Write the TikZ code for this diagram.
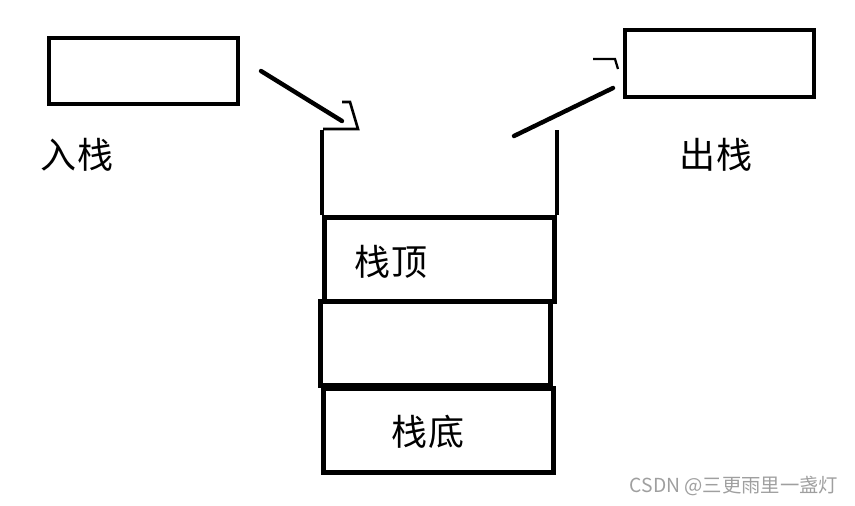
\documentclass[tikz,border=0pt]{standalone}
\usepackage{fontspec}
\newfontfamily\cjk{Noto Sans CJK SC}
\usepackage{tikz}
\usetikzlibrary{positioning, calc}
\tikzset{
  card/.style={draw, line width=2.5pt, inner sep=0pt, anchor=north west},
  slot/.style={draw, line width=3pt, inner sep=0pt, anchor=north west, minimum width=4.6cm, minimum height=1.68cm},
  label/.style={font=\cjk\fontsize{20.5}{20.5}\selectfont},
  push/.style={line width=2.5pt, line cap=round, line join=round}
}

\begin{document}
\begin{tikzpicture}[x=0.02cm, y=-0.02cm]
        \useasboundingbox (0,0) rectangle (855,505);

        % Cards left and right
        \node[card, minimum width=3.78cm, minimum height=1.32cm] (inbox)  at (47,36) {};
        \node[card, minimum width=3.78cm, minimum height=1.34cm] (outbox) at (623,28) {};
        \node[label] (inlabel)  at (77,155)  {入栈};
        \node[label] (outlabel) at (716,155) {出栈};

        % Stack
        \node[slot] (top)    at (322,215) {};
        \node[slot] (middle) at (318,299) {};
        \node[slot] (bottom) at (321,386) {};
        \node[label] at ($(top.west)+(69,2)$)     {栈顶};
        \node[label] at ($(bottom.west)+(107,1)$) {栈底};
        \draw[line width=2.4pt] (top.north west) -- ++(0,-85);
        \draw[line width=2.4pt] (top.north east) -- ++(0,-85);

        % Arrows
        \coordinate (pushfrom) at (261,71);
        \coordinate (pushto)   at (342,121);
        \coordinate (popfrom)  at (514,136);
        \coordinate (popto)    at (613,88);
        \draw[push] (pushfrom) -- (pushto);
        \draw[line width=1.5pt] ($(pushto)+(-19,8)$) -- ++(35,0) -- ++(-8,-27) -- ++(-8,0);
        \draw[push] (popfrom) -- (popto);
        \draw[line width=1.3pt] ($(popto)+(-20,-29)$) -- ++(22,0) -- ++(3,10);

        % Watermark
        \node[font=\cjk\fontsize{11}{11}\selectfont, text=gray!75] (mark) at (734,486) {CSDN @三更雨里一盏灯};
    \end{tikzpicture}
\end{document}
